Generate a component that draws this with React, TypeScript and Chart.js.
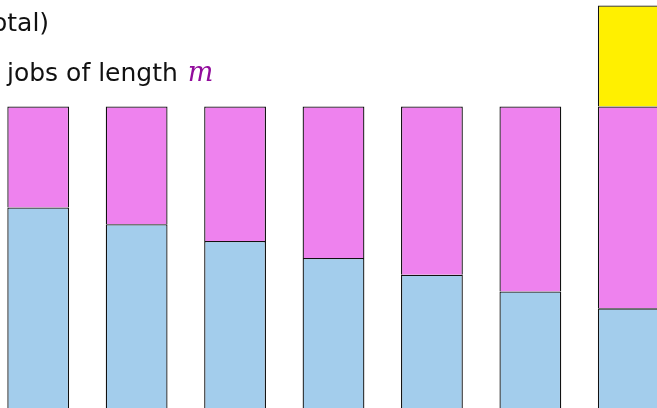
import React, { useEffect, useRef } from "react";
import { Chart, registerables } from "chart.js";

Chart.register(...registerables);

const categories = ["1", "2", "3", "4", "5", "6", "7"];
const blueValues = [12, 11, 10, 9, 8, 7, 6];
const pinkValues = [6, 7, 8, 9, 10, 11, 12];
const yellowValues = [null, null, null, null, null, null, 6];
const topLine = "otal)";
const secondLine = "jobs of length ";
const mathVar = "m";

export default function App() {
  const ref = useRef<HTMLCanvasElement | null>(null);

  useEffect(() => {
    if (!ref.current) return;
    const common = {
      borderColor: "#111111",
      borderWidth: 1.3,
      borderSkipped: "start" as const,
      categoryPercentage: 1,
      barPercentage: 0.628,
    };
    const chart = new Chart(ref.current, {
      type: "bar",
      data: {
        labels: categories,
        datasets: [
          { label: "blue", data: blueValues, backgroundColor: "#A3CDEC", ...common },
          { label: "pink", data: pinkValues, backgroundColor: "#EE82EE", ...common },
          { label: "yellow", data: yellowValues as any, backgroundColor: "#FFF000", ...common },
        ],
      },
      options: {
        animation: false,
        responsive: true,
        maintainAspectRatio: false,
        layout: { padding: { top: 0, bottom: 10.7, left: 0, right: 0 } },
        plugins: { legend: { display: false }, tooltip: { enabled: false }, title: { display: false } },
        scales: {
          x: { stacked: true, display: false, grid: { display: false } },
          y: { stacked: true, display: false, min: 0, max: 24.33, grid: { display: false } },
        },
      },
    });
    return () => chart.destroy();
  }, []);

  return (
    <div
      style={{
        position: "fixed",
        left: 0,
        top: 0,
        width: 657,
        height: 408,
        overflow: "hidden",
        background: "#ffffff",
      }}
    >
      <div style={{ position: "absolute", left: -11, top: 0, width: 689, height: 420 }}>
        <canvas ref={ref} />
      </div>
      <div
        style={{
          position: "absolute",
          left: -8,
          top: 10,
          font: "25px 'DejaVu Sans'",
          lineHeight: "25px",
          color: "#111111",
          whiteSpace: "nowrap",
        }}
      >
        {topLine}
      </div>
      <div
        style={{
          position: "absolute",
          left: 7,
          top: 56,
          font: "25px 'DejaVu Sans'",
          lineHeight: "25px",
          color: "#111111",
          whiteSpace: "nowrap",
        }}
      >
        {secondLine}
        <span style={{ font: "italic 27px 'DejaVu Serif'", color: "#920C9C", marginLeft: 2 }}>{mathVar}</span>
      </div>
    </div>
  );
}
